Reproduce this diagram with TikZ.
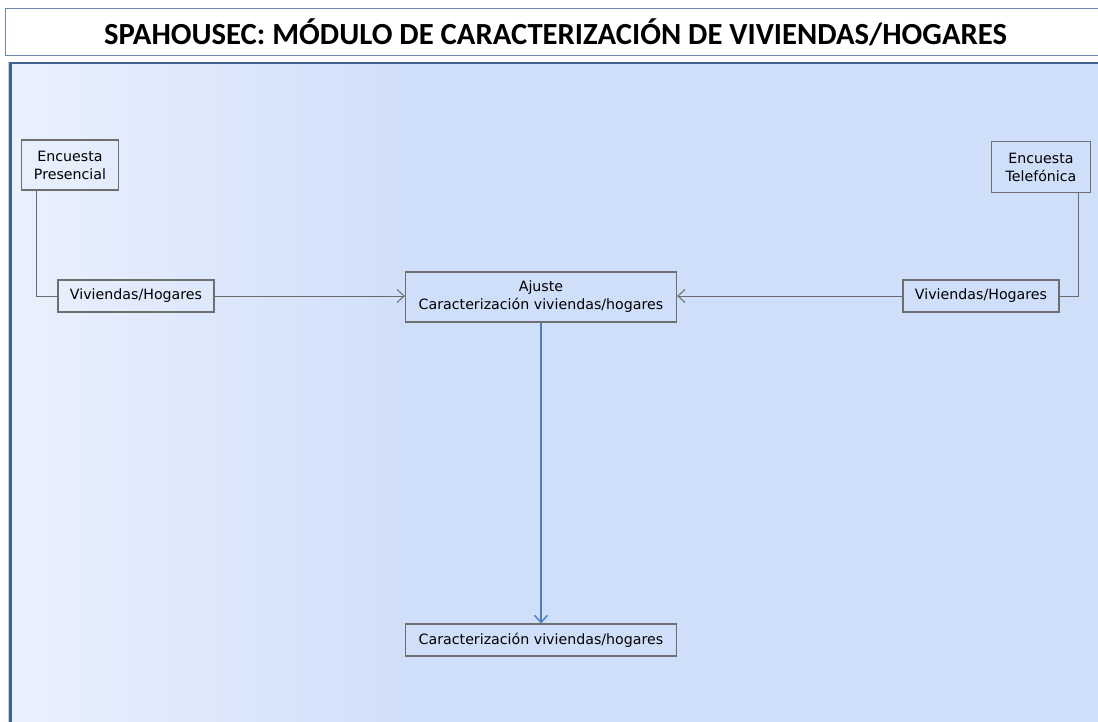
\documentclass[tikz,border=0pt]{standalone}
\usepackage{fontspec}
\setmainfont{DejaVu Sans}
\newfontfamily\titlefont{Carlito}
\usetikzlibrary{arrows.meta,positioning}
\definecolor{panelblue}{HTML}{CFDEF9}
\definecolor{panellight}{HTML}{EAF1FD}
\definecolor{frameblue}{HTML}{3F6290}
\definecolor{titleframe}{HTML}{6D87AA}
\definecolor{boxgray}{HTML}{6E6E6E}
\definecolor{linegray}{HTML}{6A6A6A}
\definecolor{flowblue}{HTML}{4A7EC0}

\begin{document}
\begin{tikzpicture}[
x=1pt, y=-1pt,
Boxes/.style={draw=boxgray,line width=1.3pt,align=center,inner sep=0pt,
  font=\fontsize{14.2}{18}\selectfont,text=black},
Links/.style={draw=linegray,line width=1pt},
Arrows/.style={Links,-{Straight Barb[length=7pt,width=13pt]}}
]

\useasboundingbox (0,0) rectangle (1098,722);

% panel behind the diagram
\fill[panelblue] (11,63) rectangle (1098,722);
\shade[left color=panellight,right color=panelblue] (11,63) rectangle (420,722);
\draw[frameblue,line width=2.5pt] (10.5,722) -- (10.5,63) -- (1098,63);
\draw[gray!40,line width=1pt] (8,722) -- (8,61);

% title
\node[draw=titleframe,line width=1.2pt,fill=white,anchor=north west,
  minimum width=1100,minimum height=47,inner sep=0pt] (title) at (5,8)
  {\titlefont\bfseries\fontsize{30.7}{34}\selectfont
   SPAHOUSEC: MÓDULO DE CARACTERIZACIÓN DE VIVIENDAS/HOGARES};

% boxes
\node[Boxes,minimum width=97,minimum height=50] (presencial) at (70,165)
  {Encuesta\\Presencial};
\node[Boxes,minimum width=99,minimum height=51] (telefonica) at (1041,167)
  {Encuesta\\Telefónica};
\node[Boxes,minimum width=156,minimum height=32] (vhleft) at (136,296)
  {Viviendas/Hogares};
\node[Boxes,minimum width=156,minimum height=32] (vhright) at (981,296)
  {Viviendas/Hogares};
\node[Boxes,minimum width=271,minimum height=50] (ajuste) at (541,297)
  {Ajuste\\Caracterización viviendas/hogares};
\node[Boxes,minimum width=271,minimum height=32] (final) at (541,640)
  {Caracterización viviendas/hogares};

% connectors
\draw[Links] (presencial.south -| 36,0) |- (vhleft.west);
\draw[Links] (telefonica.south -| 1078,0) |- (vhright.east);
\draw[Arrows] (vhleft.east) -- (vhleft.east -| ajuste.west);
\draw[Arrows] (vhright.west) -- (vhright.west -| ajuste.east);
\draw[Arrows,draw=flowblue,line width=1.4pt] (ajuste.south) -- (final.north);

\end{tikzpicture}
\end{document}
